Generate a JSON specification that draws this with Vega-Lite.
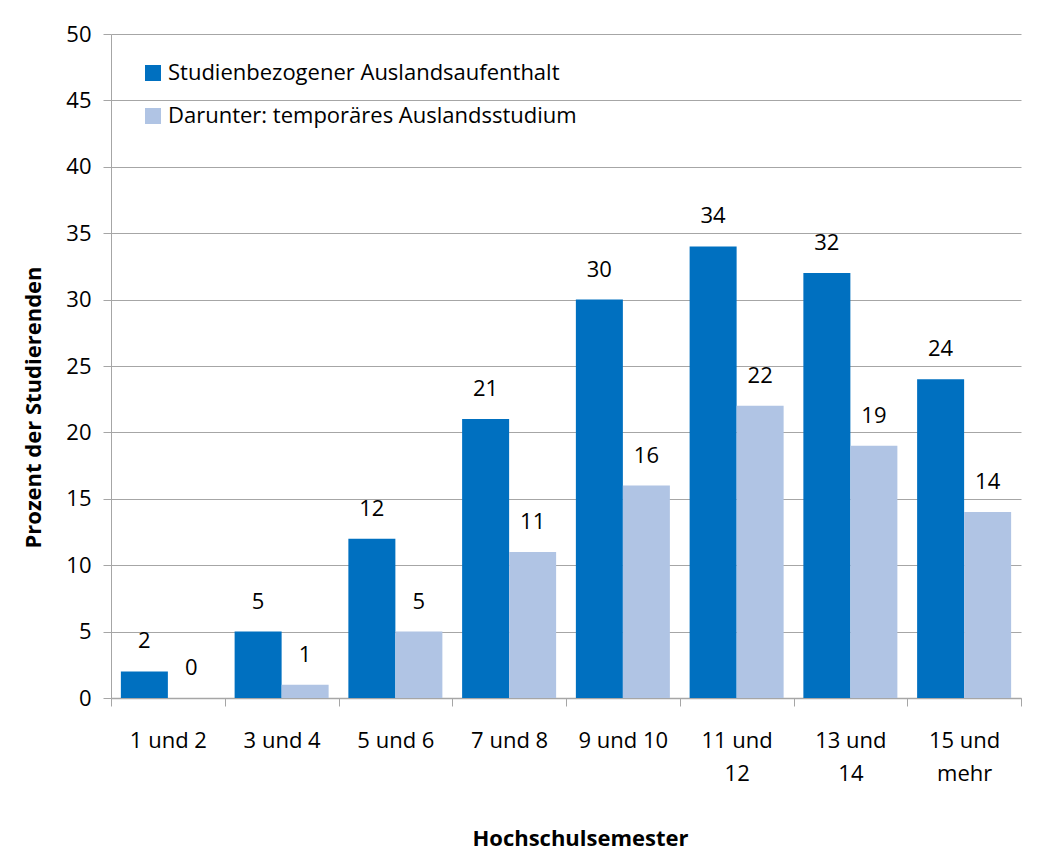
{
  "$schema": "https://vega.github.io/schema/vega-lite/v6.json",
  "autosize": {"type": "none"},
  "width": 910,
  "height": 664,
  "padding": {"left": 111, "top": 34, "right": 31, "bottom": 165},
  "background": "white",
  "config": {
    "font": "Open Sans",
    "view": {"stroke": null},
    "axis": {"labelFont": "Open Sans", "titleFont": "Open Sans", "labelFontSize": 22, "titleFontSize": 22, "labelColor": "#000000", "titleColor": "#000000", "domainColor": "#A6A6A6", "tickColor": "#A6A6A6", "gridColor": "#A6A6A6"}
  },
  "data": {
    "values": [
      {"semester": "1 und 2", "serie": "Studienbezogener Auslandsaufenthalt", "wert": 2},
      {"semester": "1 und 2", "serie": "Darunter: temporäres Auslandsstudium", "wert": 0},
      {"semester": "3 und 4", "serie": "Studienbezogener Auslandsaufenthalt", "wert": 5},
      {"semester": "3 und 4", "serie": "Darunter: temporäres Auslandsstudium", "wert": 1},
      {"semester": "5 und 6", "serie": "Studienbezogener Auslandsaufenthalt", "wert": 12},
      {"semester": "5 und 6", "serie": "Darunter: temporäres Auslandsstudium", "wert": 5},
      {"semester": "7 und 8", "serie": "Studienbezogener Auslandsaufenthalt", "wert": 21},
      {"semester": "7 und 8", "serie": "Darunter: temporäres Auslandsstudium", "wert": 11},
      {"semester": "9 und 10", "serie": "Studienbezogener Auslandsaufenthalt", "wert": 30},
      {"semester": "9 und 10", "serie": "Darunter: temporäres Auslandsstudium", "wert": 16},
      {"semester": "11 und 12", "serie": "Studienbezogener Auslandsaufenthalt", "wert": 34},
      {"semester": "11 und 12", "serie": "Darunter: temporäres Auslandsstudium", "wert": 22},
      {"semester": "13 und 14", "serie": "Studienbezogener Auslandsaufenthalt", "wert": 32},
      {"semester": "13 und 14", "serie": "Darunter: temporäres Auslandsstudium", "wert": 19},
      {"semester": "15 und mehr", "serie": "Studienbezogener Auslandsaufenthalt", "wert": 24},
      {"semester": "15 und mehr", "serie": "Darunter: temporäres Auslandsstudium", "wert": 14}
    ]
  },
  "encoding": {
    "x": {
      "field": "semester", "type": "nominal", "sort": null,
      "scale": {"paddingInner": 0, "paddingOuter": 0},
      "axis": {
        "title": "Hochschulsemester", "titleFontWeight": "bold",
        "titleX": 469, "titleY": 140, "titleBaseline": "middle", "titleAnchor": null, "titleAlign": "center",
        "labelAngle": 0, "labelBaseline": "top", "labelPadding": 24, "labelLineHeight": 33,
        "labelExpr": "length(datum.label) > 8 ? [substring(datum.label, 0, lastindexof(datum.label, ' ')), substring(datum.label, lastindexof(datum.label, ' ') + 1)] : datum.label",
        "tickBand": "extent", "tickSize": 8, "domainWidth": 1.5, "grid": false
      }
    },
    "xOffset": {
      "field": "serie", "type": "nominal",
      "sort": ["Studienbezogener Auslandsaufenthalt", "Darunter: temporäres Auslandsstudium"],
      "scale": {"paddingInner": 0, "paddingOuter": 0.21}
    },
    "y": {
      "field": "wert", "type": "quantitative",
      "scale": {"domain": [0, 50], "nice": false},
      "axis": {
        "title": "Prozent der Studierenden", "titleFontWeight": "bold",
        "titleAngle": -90, "titleX": -78, "titleY": 373, "titleAlign": "center", "titleBaseline": "middle", "titleAnchor": null,
        "values": [0, 5, 10, 15, 20, 25, 30, 35, 40, 45, 50],
        "tickSize": 8, "labelPadding": 12, "grid": true, "gridWidth": 1, "domainWidth": 1
      }
    },
    "color": {
      "field": "serie", "type": "nominal",
      "sort": ["Studienbezogener Auslandsaufenthalt", "Darunter: temporäres Auslandsstudium"],
      "scale": {"range": ["#0070C0", "#B0C4E4"]},
      "legend": {
        "title": null, "orient": "none", "legendX": 31, "legendY": 28,
        "symbolType": "square", "symbolSize": 256, "symbolStrokeWidth": 0, "symbolOpacity": 1,
        "labelFontSize": 22, "labelFont": "Open Sans", "labelColor": "#000000", "labelOffset": 4, "labelLimit": 700,
        "rowPadding": 21, "direction": "vertical"
      }
    }
  },
  "layer": [
    {"mark": {"type": "bar", "opacity": 1}},
    {
      "mark": {"type": "text", "fontSize": 22, "font": "Open Sans", "color": "#000000", "baseline": "middle", "dy": -30},
      "encoding": {"text": {"field": "wert", "type": "quantitative"}, "color": {"value": "#000000"}}
    }
  ]
}
